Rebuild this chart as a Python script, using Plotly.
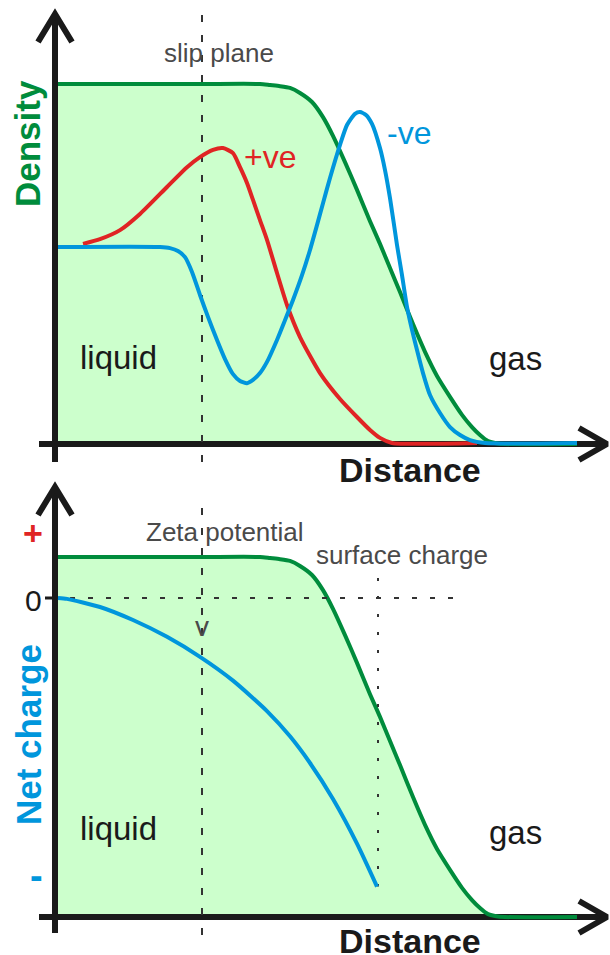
import plotly.graph_objects as go

# ---------------- data (distance in arbitrary units) ----------------
# density profile of the liquid (same profile used in both panels)
dens_x = [0, 2.9, 4.1, 4.3, 4.5, 4.7, 4.9, 5.14, 5.36, 5.56, 5.8, 6.04, 6.3, 6.5, 6.7, 6.9,
          7.16, 7.4, 7.64, 7.9, 8.14, 8.34, 8.5, 8.66, 8.8, 9.0, 10.44]
dens_y = [1, 1, 1, 0.997, 0.994, 0.989, 0.975, 0.95, 0.908, 0.856, 0.783, 0.706, 0.619, 0.556, 0.489, 0.422,
          0.333, 0.256, 0.189, 0.131, 0.081, 0.047, 0.025, 0.008, 0.003, 0, 0]

# +ve ion density
pos_x = [0.56, 0.9, 1.3, 1.7, 2.24, 2.64, 2.9, 3.16, 3.36, 3.56, 3.7, 3.84, 3.96, 4.1, 4.24, 4.44, 4.64,
         4.9, 5.3, 5.7, 6.04, 6.3, 6.5, 6.74, 8.44]
pos_y = [0.556, 0.569, 0.594, 0.639, 0.714, 0.769, 0.797, 0.817, 0.822, 0.808, 0.769, 0.725, 0.678, 0.622,
         0.567, 0.475, 0.386, 0.297, 0.197, 0.125, 0.075, 0.039, 0.017, 0.003, 0.003]

# -ve ion density
neg_x = [0.06, 2.1, 2.3, 2.46, 2.6, 2.74, 2.9, 3.06, 3.24, 3.4, 3.56, 3.7, 3.84, 3.96, 4.1, 4.24, 4.44,
         4.6, 4.76, 4.94, 5.1, 5.24, 5.36, 5.5, 5.7, 5.84, 6.0, 6.1, 6.22, 6.34, 6.5, 6.6, 6.7, 6.84,
         6.94, 7.04, 7.14, 7.24, 7.36, 7.5, 7.7, 7.9, 8.1, 8.3, 8.6, 10.44]
neg_y = [0.547, 0.547, 0.544, 0.536, 0.519, 0.478, 0.414, 0.353, 0.289, 0.236, 0.194, 0.175, 0.169, 0.178,
         0.197, 0.228, 0.289, 0.344, 0.4, 0.469, 0.539, 0.608, 0.669, 0.739, 0.831, 0.886, 0.917, 0.922,
         0.914, 0.889, 0.822, 0.761, 0.683, 0.553, 0.469, 0.381, 0.317, 0.261, 0.197, 0.136, 0.086, 0.047,
         0.025, 0.011, 0.003, 0.003]

# net charge
chg_x = [0.06, 0.24, 0.9, 1.56, 2.24, 2.9, 3.56, 4.24, 4.7, 5.1, 5.56, 6.04, 6.44]
chg_y = [0, -0.003, -0.031, -0.076, -0.134, -0.203, -0.285, -0.39, -0.477, -0.569, -0.693, -0.847, -0.995]

slip_plane_x = 2.94
surface_x = 6.46

# ---------------- style ----------------
GREEN = "#008c3c"
FILL = "#ccffcc"
RED = "#e02424"
BLUE = "#0096dc"
BLACK = "#1a1a1a"
GREY = "#4a4a4a"
FONT = "Liberation Sans, Arial, sans-serif"

XR = [-1.1, 11.1]
PX = (XR[1] - XR[0]) / 610.0          # x units per pixel
TOP_R = [-31 / 360, 444 / 360]        # density units (top)
PY_T = 1 / 360.0
D2_R = [(917 - 955) / 360, (917 - 475) / 360]   # density units (bottom)
PY_2 = 1 / 360.0
CHG_R = [(598 - 955) / 290, (598 - 475) / 290]  # charge units (bottom)
split = 480 / 955

fig = go.Figure()

def line(x, y, color, width, xa="x", ya="y", dash=None, fill=None, fillcolor=None, shape="linear"):
    fig.add_trace(go.Scatter(x=x, y=y, mode="lines", xaxis=xa, yaxis=ya,
                             line=dict(color=color, width=width, dash=dash, shape=shape,
                                       smoothing=0.6 if shape == "spline" else None),
                             fill=fill, fillcolor=fillcolor, hoverinfo="skip",
                             showlegend=False))

def x_axis_line(xa, ya):
    line([-16 * PX, 11.1 - 4 * PX], [0, 0], BLACK, 6, xa, ya)

def yaxis_arrow(xa, ya, y_bottom, y_tip, py):
    line([0, 0], [y_bottom, y_tip - 4 * py], BLACK, 6, xa, ya)
    line([-17 * PX, 0, 17 * PX], [y_tip - 28 * py, y_tip, y_tip - 28 * py], BLACK, 6, xa, ya)

def xaxis_arrow(xa, ya, py):
    tip = 11.1 - 3 * PX
    line([tip - 28 * PX, tip, tip - 28 * PX], [16 * py, 0, -16 * py], BLACK, 6, xa, ya)

S = "spline"
# ---------- top panel ----------
line(dens_x, dens_y, "rgba(0,0,0,0)", 0, fill="tozeroy", fillcolor=FILL, shape=S)
x_axis_line("x", "y")
line([slip_plane_x, slip_plane_x], [(444 - 462) / 360, (444 - 15) / 360], "#333333", 2, dash="7px,13px")
line(dens_x, dens_y, GREEN, 4, shape=S)
line(pos_x, pos_y, RED, 4, shape=S)
line(neg_x, neg_y, BLUE, 4, shape=S)
yaxis_arrow("x", "y", (444 - 462) / 360, (444 - 14) / 360, PY_T)
xaxis_arrow("x", "y", PY_T)

# ---------- bottom panel (density axis y2) ----------
line(dens_x, dens_y, "rgba(0,0,0,0)", 0, xa="x2", ya="y2", fill="tozeroy", fillcolor=FILL, shape=S)
x_axis_line("x2", "y2")
line(dens_x, dens_y, GREEN, 4, xa="x2", ya="y2", shape=S)
yaxis_arrow("x2", "y2", (917 - 933) / 360, (917 - 487) / 360, PY_2)
xaxis_arrow("x2", "y2", PY_2)

# ---------- bottom panel (charge axis y3, overlay) ----------
line([slip_plane_x, slip_plane_x], [(598 - 935) / 290, (598 - 500) / 290], "#333333", 2, xa="x2", ya="y3", dash="7px,13px")
line([0.3, 8.0], [0, 0], "#333333", 2, xa="x2", ya="y3", dash="5px,13px")
line([surface_x, surface_x], [(598 - 578) / 290, chg_y[-1]], "#333333", 2, xa="x2", ya="y3", dash="3px,15px")
line(chg_x, chg_y, BLUE, 4, xa="x2", ya="y3", shape=S)
line([-10 * PX, -3 * PX], [0, 0], BLACK, 3, xa="x2", ya="y3")

ann = []
def text(t, x, y, size, color, xref="x", yref="y", bold=False, angle=0):
    ann.append(dict(text=f"<b>{t}</b>" if bold else t, x=x, y=y, xref=xref, yref=yref,
                    showarrow=False, xanchor="center", yanchor="middle", textangle=angle,
                    font=dict(family=FONT, size=size, color=color)))

# top labels
text("slip plane", 3.28, (444 - 53) / 360, 26, GREY)
text("+ve", 4.3, (444 - 157) / 360, 32, RED)
text("-ve", 7.08, (444 - 133) / 360, 32, BLUE)
text("Density", -0.56, (444 - 144) / 360, 35, GREEN, bold=True, angle=-90)
text("liquid", 1.26, (444 - 357) / 360, 33, BLACK)
text("gas", 9.2, (444 - 358) / 360, 33, BLACK)
text("Distance", 7.1, (444 - 470) / 360, 34, BLACK, bold=True)

# bottom labels (charge coordinates)
q = lambda py: (598 - py) / 290
text("Zeta potential", 3.4, q(532), 26, GREY, "x2", "y3")
text("surface charge", 6.94, q(555), 26, GREY, "x2", "y3")
text("v", slip_plane_x, q(626), 28, GREY, "x2", "y3")
text("+", -0.44, q(533), 34, RED, "x2", "y3", bold=True)
text("0", -0.44, q(600), 30, BLACK, "x2", "y3")
text("-", -0.38, q(876), 38, BLUE, "x2", "y3", bold=True)
text("Net charge", -0.54, q(735), 35, BLUE, "x2", "y3", bold=True, angle=-90)
text("liquid", 1.26, q(828), 33, BLACK, "x2", "y3")
text("gas", 9.2, q(832), 33, BLACK, "x2", "y3")
text("Distance", 7.1, q(941), 34, BLACK, "x2", "y3", bold=True)

hidden = dict(visible=False, fixedrange=True)
fig.update_layout(
    width=610, height=955,
    margin=dict(l=0, r=0, t=0, b=0),
    paper_bgcolor="white", plot_bgcolor="rgba(0,0,0,0)",
    showlegend=False,
    annotations=ann,
    xaxis=dict(range=XR, domain=[0, 1], anchor="y", **hidden),
    yaxis=dict(range=TOP_R, domain=[split, 1], anchor="x", **hidden),
    xaxis2=dict(range=XR, domain=[0, 1], anchor="y2", **hidden),
    yaxis2=dict(range=D2_R, domain=[0, split], anchor="x2", **hidden),
    yaxis3=dict(range=CHG_R, domain=[0, split], anchor="x2", overlaying="y2", **hidden),
)

fig.write_html("out.html", config={"displayModeBar": False},
               post_script="document.body.style.margin='0px';document.body.style.overflow='hidden';")
